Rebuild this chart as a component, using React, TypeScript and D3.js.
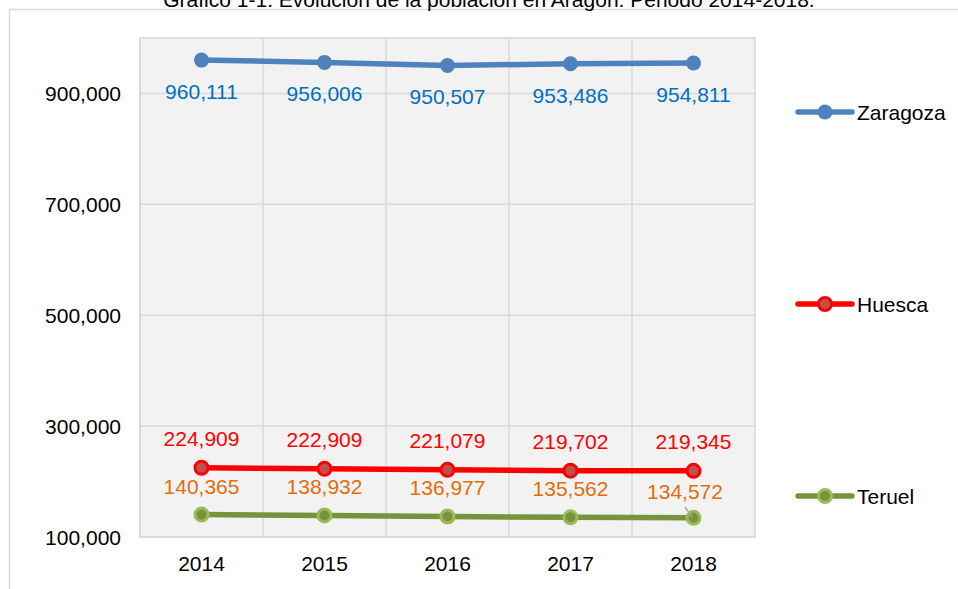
import React from "react";
import * as d3 from "d3";

const years = ["2014", "2015", "2016", "2017", "2018"];
const zaragoza = [960111, 956006, 950507, 953486, 954811];
const huesca = [224909, 222909, 221079, 219702, 219345];
const teruel = [140365, 138932, 136977, 135562, 134572];
const yTicks = [100000, 300000, 500000, 700000, 900000];
const title = "Gráfico 1-1. Evolución de la población en Aragón. Periodo 2014-2018.";

const W = 958;
const H = 589;
const FONT = "'Liberation Sans', Arial, sans-serif";

export default function App() {
  const x = d3.scaleBand<string>().domain(years).range([140, 755]).padding(0);
  const y = d3.scaleLinear().domain([100000, 1000000]).range([537, 38]);
  const cx = (i: number) => (x(years[i]) as number) + x.bandwidth() / 2;
  const fmt = d3.format(",");
  const line = d3
    .line<number>()
    .x((_, i) => cx(i))
    .y((d) => y(d));

  const series = [
    {
      name: "Zaragoza",
      data: zaragoza,
      line: "#4F81BD",
      fill: "#4F81BD",
      stroke: "#4F81BD",
      label: "#0070C0",
      dy: 39,
      legendY: 112,
    },
    {
      name: "Huesca",
      data: huesca,
      line: "#FF0000",
      fill: "#C0504D",
      stroke: "#FF0000",
      label: "#FF0000",
      dy: -22,
      legendY: 304,
    },
    {
      name: "Teruel",
      data: teruel,
      line: "#77933C",
      fill: "#77933C",
      stroke: "#9BBB59",
      label: "#E46C0A",
      dy: -21,
      legendY: 496,
    },
  ];

  const gridColor = "#D9D9D9";

  return (
    <svg
      width={W}
      height={H}
      style={{ position: "absolute", left: 0, top: 0, background: "#fff" }}
      fontFamily={FONT}
    >
      <rect x={9.5} y={9.5} width={W + 20} height={H + 20} fill="#fff" stroke={gridColor} strokeWidth={1.5} />
      <text x={489} y={7} textAnchor="middle" fontSize={21} fill="#000">
        {title}
      </text>
      {/* plot area */}
      <rect x={140} y={38} width={615} height={499} fill="#F2F2F2" stroke={gridColor} strokeWidth={1.5} />
      {yTicks.map((t) => (
        <line key={"h" + t} x1={140} x2={755} y1={y(t)} y2={y(t)} stroke={gridColor} strokeWidth={1.5} />
      ))}
      {years.map((yr, i) => (
        <line key={"v" + yr} x1={x(yr) as number} x2={x(yr) as number} y1={38} y2={537} stroke={gridColor} strokeWidth={1.5} />
      ))}
      {yTicks.map((t) => (
        <text key={"yl" + t} x={121} y={y(t)} dy="0.36em" textAnchor="end" fontSize={21} fill="#000">
          {fmt(t)}
        </text>
      ))}
      {years.map((yr, i) => (
        <text key={"xl" + yr} x={cx(i)} y={571} textAnchor="middle" fontSize={21} fill="#000">
          {yr}
        </text>
      ))}
      {series.map((s) => (
        <g key={s.name}>
          <path d={line(s.data) || ""} fill="none" stroke={s.line} strokeWidth={5.5} strokeLinecap="round" />
          {s.data.map((v, i) => (
            <circle key={i} cx={cx(i)} cy={y(v)} r={s.name === "Zaragoza" ? 7.5 : 6.5} fill={s.fill} stroke={s.stroke} strokeWidth={s.name === "Zaragoza" ? 0 : 3} />
          ))}
        </g>
      ))}
      {/* leader line for last Teruel label */}
      <line x1={685} y1={507} x2={692} y2={517} stroke="#A6A6A6" strokeWidth={1.5} />
      {series.map((s) =>
        s.data.map((v, i) => {
          const shifted = s.name === "Teruel" && i === 4;
          return (
            <text
              key={s.name + "l" + i}
              x={cx(i) - (shifted ? 8.5 : 0)}
              y={y(v) + s.dy + (shifted ? 2 : 0)}
              textAnchor="middle"
              fontSize={21}
              fill={s.label}
            >
              {fmt(v)}
            </text>
          );
        })
      )}
      {/* legend */}
      {series.map((s) => (
        <g key={"lg" + s.name}>
          <line x1={798} x2={852} y1={s.legendY} y2={s.legendY} stroke={s.line} strokeWidth={5.5} strokeLinecap="round" />
          <circle cx={825} cy={s.legendY} r={s.name === "Zaragoza" ? 7.5 : 6.5} fill={s.fill} stroke={s.stroke} strokeWidth={s.name === "Zaragoza" ? 0 : 3} />
          <text x={857} y={s.legendY} dy="0.36em" fontSize={21} fill="#000">
            {s.name}
          </text>
        </g>
      ))}
    </svg>
  );
}
